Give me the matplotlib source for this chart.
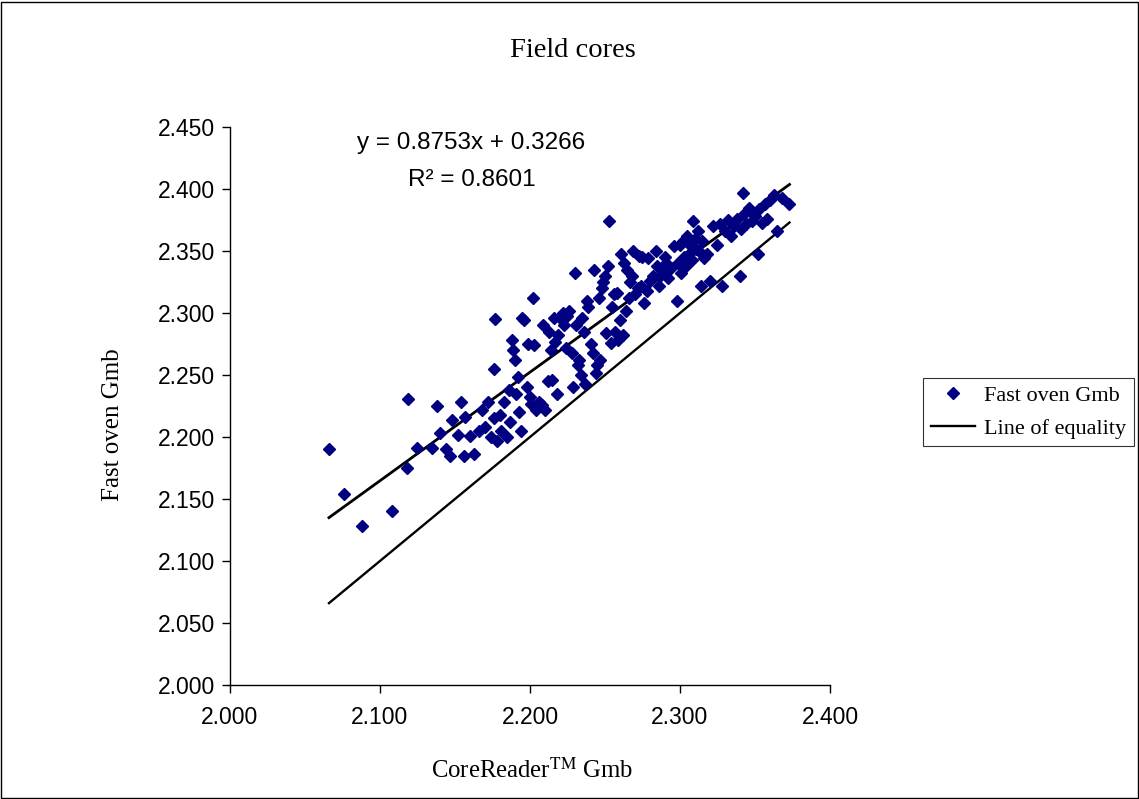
import numpy as np
from matplotlib import pyplot as plt
from matplotlib.patches import Rectangle

# CoreReader Gmb (x) vs fast oven Gmb (y)
core_reader = [2.066, 2.076, 2.088, 2.108, 2.118, 2.119, 2.125, 2.135, 2.138, 2.140,
               2.144, 2.147, 2.148, 2.152, 2.154, 2.156, 2.157, 2.160, 2.163, 2.166,
               2.168, 2.170, 2.172, 2.174, 2.176, 2.177, 2.176, 2.178, 2.180, 2.181,
               2.183, 2.185, 2.186, 2.187, 2.188, 2.189, 2.190, 2.191, 2.192, 2.193,
               2.194, 2.195, 2.196, 2.198, 2.199, 2.200, 2.201, 2.202, 2.203, 2.204,
               2.206, 2.208, 2.209, 2.210, 2.212, 2.213, 2.214, 2.215, 2.216, 2.217,
               2.218, 2.219, 2.220, 2.222, 2.223, 2.224, 2.225, 2.226, 2.228, 2.229,
               2.230, 2.231, 2.232, 2.233, 2.234, 2.235, 2.236, 2.237, 2.238, 2.239,
               2.241, 2.242, 2.243, 2.244, 2.245, 2.246, 2.247, 2.248, 2.249, 2.250,
               2.251, 2.252, 2.253, 2.254, 2.255, 2.256, 2.257, 2.258, 2.259, 2.260,
               2.261, 2.262, 2.263, 2.264, 2.265, 2.266, 2.267, 2.268, 2.269, 2.270,
               2.272, 2.273, 2.274, 2.275, 2.276, 2.278, 2.279, 2.280, 2.282, 2.284,
               2.285, 2.286, 2.287, 2.288, 2.290, 2.291, 2.292, 2.294, 2.296, 2.298,
               2.299, 2.300, 2.301, 2.302, 2.303, 2.304, 2.305, 2.306, 2.307, 2.308,
               2.309, 2.310, 2.311, 2.312, 2.313, 2.314, 2.315, 2.316, 2.318, 2.320,
               2.322, 2.325, 2.327, 2.328, 2.330, 2.332, 2.334, 2.336, 2.338, 2.340,
               2.341, 2.342, 2.343, 2.344, 2.346, 2.348, 2.350, 2.352, 2.353, 2.355,
               2.357, 2.358, 2.360, 2.363, 2.365, 2.368, 2.373]
fast_oven = [2.190, 2.154, 2.128, 2.140, 2.175, 2.231, 2.191, 2.191, 2.225, 2.203,
             2.190, 2.185, 2.214, 2.202, 2.228, 2.185, 2.216, 2.201, 2.186, 2.205,
             2.222, 2.208, 2.228, 2.200, 2.255, 2.295, 2.215, 2.197, 2.218, 2.205,
             2.228, 2.200, 2.238, 2.212, 2.278, 2.270, 2.262, 2.235, 2.248, 2.220,
             2.205, 2.296, 2.294, 2.240, 2.275, 2.232, 2.227, 2.312, 2.274, 2.222,
             2.228, 2.226, 2.290, 2.222, 2.245, 2.285, 2.270, 2.246, 2.296, 2.277,
             2.235, 2.282, 2.296, 2.300, 2.290, 2.272, 2.298, 2.302, 2.268, 2.240,
             2.332, 2.290, 2.258, 2.262, 2.250, 2.296, 2.285, 2.243, 2.310, 2.305,
             2.275, 2.268, 2.335, 2.252, 2.258, 2.312, 2.262, 2.320, 2.325, 2.330,
             2.284, 2.338, 2.374, 2.276, 2.305, 2.315, 2.285, 2.316, 2.278, 2.294,
             2.348, 2.282, 2.340, 2.302, 2.335, 2.312, 2.325, 2.330, 2.350, 2.315,
             2.320, 2.346, 2.322, 2.345, 2.308, 2.318, 2.344, 2.326, 2.330, 2.350,
             2.338, 2.322, 2.330, 2.334, 2.345, 2.340, 2.328, 2.336, 2.354, 2.310,
             2.340, 2.355, 2.332, 2.358, 2.345, 2.338, 2.362, 2.348, 2.355, 2.343,
             2.374, 2.360, 2.352, 2.366, 2.350, 2.322, 2.358, 2.344, 2.348, 2.326,
             2.370, 2.355, 2.372, 2.322, 2.366, 2.375, 2.362, 2.370, 2.376, 2.330,
             2.368, 2.397, 2.380, 2.372, 2.385, 2.374, 2.378, 2.348, 2.384, 2.373,
             2.388, 2.376, 2.391, 2.395, 2.366, 2.393, 2.388]

# trendline shown on the chart
slope = 0.8753
intercept = 0.3266
r_squared = 0.8601

x_ticks = [2.0, 2.1, 2.2, 2.3, 2.4]
y_ticks = [2.0, 2.05, 2.1, 2.15, 2.2, 2.25, 2.3, 2.35, 2.4, 2.45]

plt.rcParams['font.family'] = 'Liberation Serif'

fig = plt.figure(figsize=(11.39, 7.99), dpi=100)
ax = fig.add_axes([0.2019, 0.1427, 0.5268, 0.6983])

x = np.array(core_reader)
y = np.array(fast_oven)
x_line = np.array([x.min(), x.max()])

ax.plot(x, y, linestyle='none', marker='D', markersize=6, color='#000080',
        label='Fast oven Gmb', zorder=3)
ax.plot(x_line, slope * x_line + intercept, color='black', linewidth=2.0, zorder=2)
ax.plot(x_line, x_line, color='black', linewidth=1.7, label='Line of equality', zorder=2)

ax.set_xlim(2.0, 2.4)
ax.set_ylim(2.0, 2.45)
ax.set_xticks(x_ticks)
ax.set_yticks(y_ticks)
ax.set_xticklabels(['%.3f' % v for v in x_ticks], family='Liberation Sans', fontsize=16.5)
ax.set_yticklabels(['%.3f' % v for v in y_ticks], family='Liberation Sans', fontsize=16.5)
ax.tick_params(direction='out', length=6, width=1, color='black')
ax.tick_params(axis='x', pad=9)
ax.tick_params(axis='y', pad=5)
ax.spines['top'].set_visible(False)
ax.spines['right'].set_visible(False)
for s in ['left', 'bottom']:
    ax.spines[s].set_linewidth(1)
    ax.spines[s].set_color('black')

ax.text(2.161, 2.4375, 'y = 0.8753x + 0.3266', family='Liberation Sans', fontsize=17.5,
        ha='center', va='center')
ax.text(2.161, 2.4075, 'R² = %.4f' % r_squared, family='Liberation Sans', fontsize=17.5,
        ha='center', va='center')

fig.text(0.503, 0.937, 'Field cores', fontsize=20.5, ha='center', va='center')
fig.text(0.467, 0.036, r'CoreReader$^{\mathrm{TM}}$ Gmb', fontsize=17.8, ha='center',
         va='center', math_fontfamily='stix')
fig.text(0.099, 0.468, 'Fast oven Gmb', fontsize=18, ha='center', va='center', rotation=90)

leg = ax.legend(loc='center left', bbox_to_anchor=(0.8104, 0.4844), bbox_transform=fig.transFigure,
                fontsize=16, frameon=True, fancybox=False, handlelength=2.0,
                handletextpad=0.4, borderpad=0.35, labelspacing=0.55, borderaxespad=0)
leg.get_frame().set_edgecolor('black')
leg.get_frame().set_linewidth(0.8)

# outer chart border
fig.patches.append(Rectangle((0.001, 0.001), 0.998, 0.997, transform=fig.transFigure,
                             fill=False, edgecolor='black', linewidth=1))

plt.savefig('out.png', dpi=100)
